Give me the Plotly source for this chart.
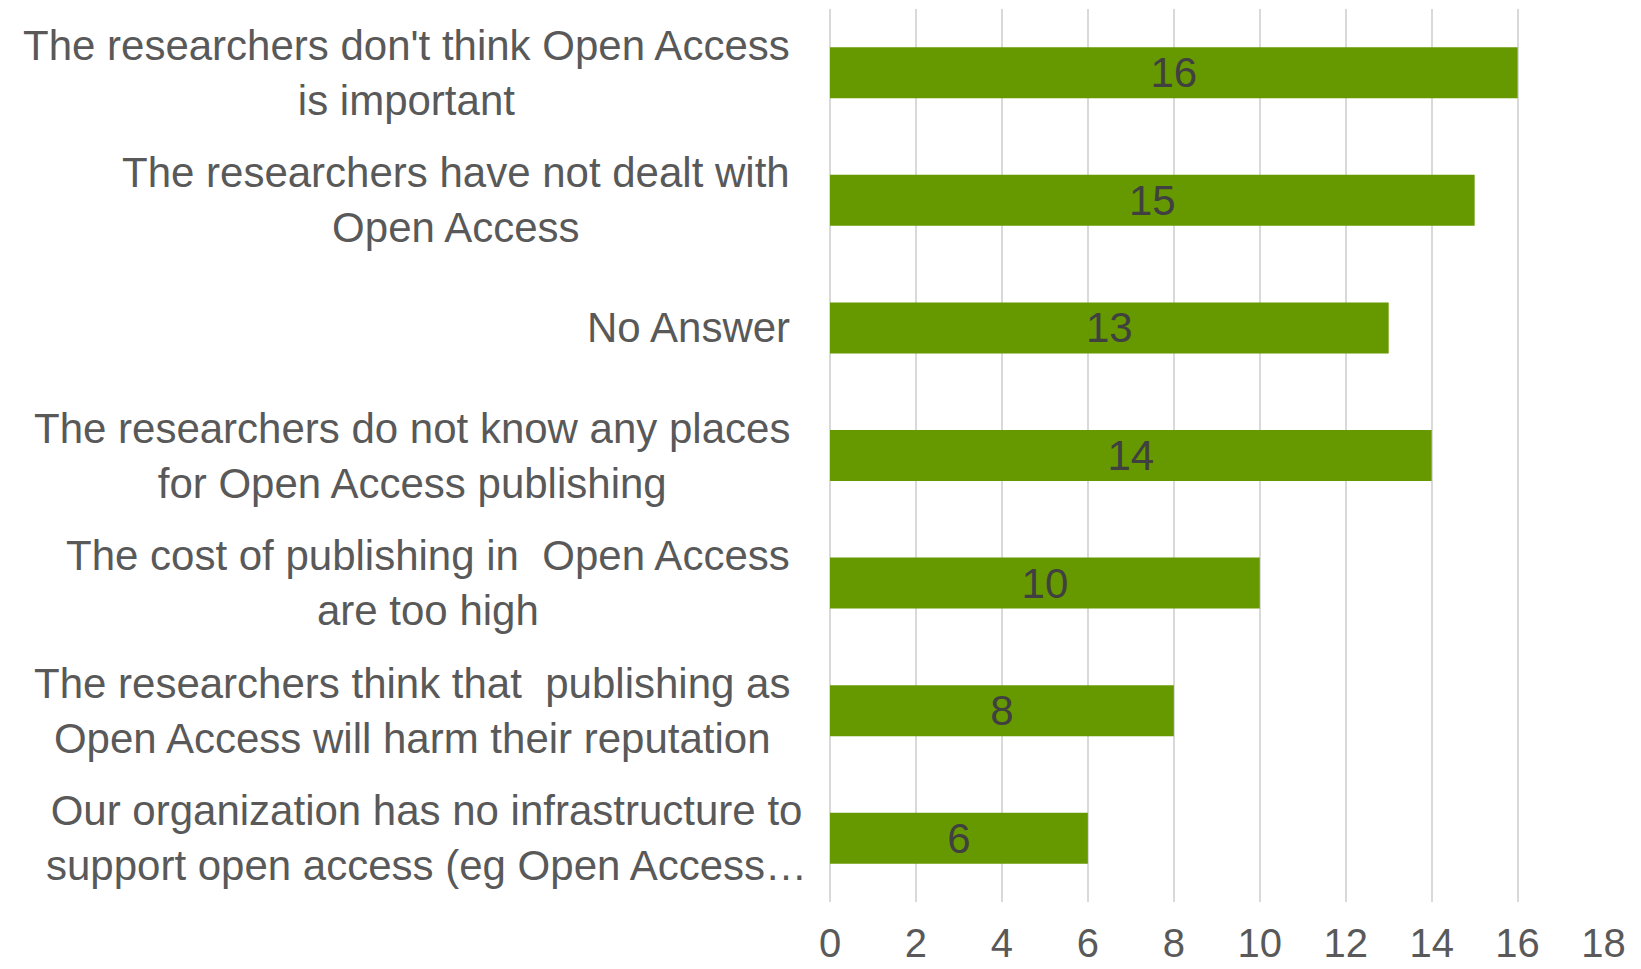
import plotly.graph_objects as go

categories = [
    "The researchers don't think Open Access<br>is important",
    "The researchers have not dealt with<br>Open Access",
    "No Answer",
    "The researchers do not know any places<br>for Open Access publishing",
    "The cost of publishing in  Open Access<br>are too high",
    "The researchers think that  publishing as<br>Open Access will harm their reputation",
    "Our organization has no infrastructure to<br>support open access (eg Open Access…",
]
values = [16, 15, 13, 14, 10, 8, 6]
tick_vals = [0, 2, 4, 6, 8, 10, 12, 14, 16, 18]

FONT = "Liberation Sans, Arial, sans-serif"
ids = list(range(len(categories)))

fig = go.Figure(go.Bar(
    y=ids, x=values, orientation="h",
    marker=dict(color="#669900", line=dict(width=0)),
    text=[str(v) for v in values], textposition="inside",
    insidetextanchor="middle", constraintext="none", textangle=0,
    textfont=dict(family=FONT, size=42, color="#404040"),
    width=0.4, hoverinfo="skip",
))

for i, c in enumerate(categories):
    fig.add_annotation(
        x=0, xref="paper", y=i, yref="y", text=c, showarrow=False,
        xanchor="right", yanchor="middle", align="center",
        xshift=-38 if i < len(categories) - 1 else -21,
        font=dict(family=FONT, size=42, color="#595959"),
    )

fig.update_layout(
    width=1641, height=969,
    margin=dict(l=830, r=37, t=9, b=67, autoexpand=False),
    plot_bgcolor="white", paper_bgcolor="white",
    showlegend=False,
    xaxis=dict(range=[0, 18.01], tickvals=tick_vals, showgrid=True,
               gridcolor="#d9d9d9", gridwidth=1.5, zeroline=True,
               zerolinecolor="#d9d9d9", zerolinewidth=1.5,
               showline=False, ticks="", ticklabelstandoff=14,
               automargin=False,
               tickfont=dict(family=FONT, size=40, color="#595959")),
    yaxis=dict(range=[len(categories) - 0.5, -0.5], showticklabels=False,
               showgrid=False, zeroline=False, ticks="", automargin=False),
)

fig.write_html(
    "out.html",
    config={"displayModeBar": False},
    post_script="document.body.style.margin='0';document.body.style.overflow='hidden';",
)
